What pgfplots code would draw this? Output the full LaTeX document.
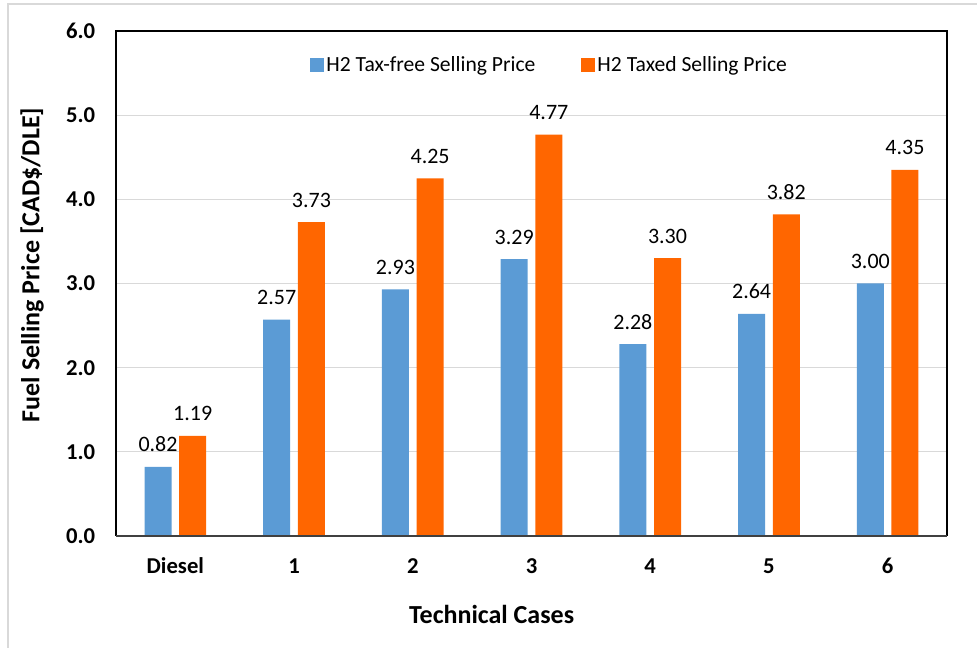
\documentclass[border=0pt]{standalone}
\usepackage{fontspec}
\setmainfont{Carlito}
\usepackage{pgfplots}
\pgfplotsset{compat=1.18}

\definecolor{barblue}{HTML}{5B9BD5}
\definecolor{barorange}{HTML}{FF6600}
\definecolor{gridgray}{HTML}{D9D9D9}
\definecolor{edgegray}{HTML}{D9D9D9}
\definecolor{basegray}{HTML}{404040}

\begin{document}
\begin{tikzpicture}
% page extent and the thin outer border
\path[use as bounding box] (0pt,0pt) rectangle (732.75pt,486pt);
\draw[edgegray, line width=0.9pt] (6pt,0pt) -- (6pt,483pt) -- (732.75pt,483pt);

\begin{axis}[
  at={(87pt,84pt)}, anchor=south west,
  scale only axis, width=623.25pt, height=378.75pt,
  xmin=-0.5, xmax=6.5, ymin=0, ymax=6,
  ybar, bar width=20.25pt,
  clip=false,
  xtick={0,...,6}, xticklabels={Diesel,1,2,3,4,5,6},
  ytick={0,1,...,6}, yticklabels={0.0,1.0,2.0,3.0,4.0,5.0,6.0},
  major tick length=0pt,
  ymajorgrids, grid style={gridgray, line width=0.9pt},
  axis line style={draw=none},
  /pgf/number format/assume math mode=true,
  tick label style={font=\bfseries\fontsize{17}{19}\selectfont},
  x tick label style={anchor=base, yshift=-28.5pt},
  y tick label style={anchor=east, inner sep=0pt, xshift=-15.5pt},
  xlabel={Technical Cases},
  ylabel={Fuel Selling Price [CAD\$/DLE]},
  label style={font=\bfseries\fontsize{19.5}{22}\selectfont},
  xlabel style={at={(axis description cs:0.452,-0.1545)}, anchor=center},
  ylabel style={at={(axis description cs:-0.101,0.537)}, anchor=center},
  legend style={draw=none, fill=none, at={(axis description cs:0.228,0.933)},
    anchor=west, legend columns=2,
    font=\fontsize{16.2}{18}\selectfont,
    /tikz/every even column/.append style={column sep=32pt}},
  legend image code/.code={\fill[#1, draw=none] (0pt,-5.25pt) rectangle (10.5pt,5.25pt);},
  nodes near coords={\pgfmathprintnumber[fixed,fixed zerofill,precision=2]{\pgfplotspointmeta}},
  every node near coord/.append style={anchor=base, yshift=11.25pt, black,
    font=\fontsize{16.5}{18}\selectfont},
]
\addplot[fill=barblue, draw=none, bar shift=-13pt] coordinates {
  (0,0.82) (1,2.57) (2,2.93) (3,3.29) (4,2.28) (5,2.64) (6,3.00)};
\addlegendentry{H2 Tax-free Selling Price}
\addplot[fill=barorange, draw=none, bar shift=13pt] coordinates {
  (0,1.19) (1,3.73) (2,4.25) (3,4.77) (4,3.30) (5,3.82) (6,4.35)};
\addlegendentry{H2 Taxed Selling Price}

% plot frame: heavy black on three sides, darker grey base line
\draw[black, line width=2.2pt] (rel axis cs:0,0) -- (rel axis cs:0,1) -- (rel axis cs:1,1) -- (rel axis cs:1,0);
\draw[basegray, line width=1.8pt] (rel axis cs:0,0) -- (rel axis cs:1,0);
\end{axis}
\end{tikzpicture}
\end{document}
